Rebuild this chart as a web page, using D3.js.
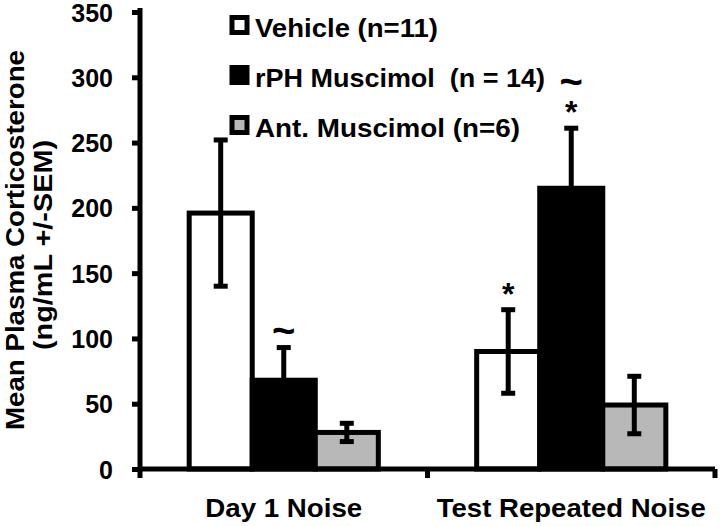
<!DOCTYPE html>
<html>
<head>
<meta charset="utf-8">
<script src="https://cdn.jsdelivr.net/npm/d3@7/dist/d3.min.js"></script>
<style>
  html, body { margin: 0; padding: 0; background: #fff; }
  svg text { font-family: "Liberation Sans", Arial, sans-serif; font-weight: bold; fill: #000; white-space: pre; }
</style>
</head>
<body>
<svg id="chart" width="720" height="526"></svg>
<script>
const categories = ["Day 1 Noise", "Test Repeated Noise"];
const seriesNames = ["Vehicle (n=11)", "rPH Muscimol  (n = 14)", "Ant. Muscimol (n=6)"];
const seriesColors = ["#ffffff", "#000000", "#b8b8b8"];
const vehicleMean = [196, 90];
const vehicleSem = [56, 32];
const rphMean = [68, 215];
const rphSem = [25, 46];
const antMean = [28, 49];
const antSem = [7, 22];
const yTicks = [0, 50, 100, 150, 200, 250, 300, 350];
const annotations = [
  { cat: 0, series: 1, marks: ["~"] },
  { cat: 1, series: 0, marks: ["*"] },
  { cat: 1, series: 1, marks: ["~", "*"] }
];

const means = [vehicleMean, rphMean, antMean];
const sems = [vehicleSem, rphSem, antSem];

const svg = d3.select("#chart");
const mLeft = 140, mRight = 715, mTop = 12, mBottom = 469;

const y = d3.scaleLinear().domain([0, 350]).range([mBottom, mTop]);
const x0 = d3.scaleBand().domain(categories).range([mLeft, mRight]).padding(0);
const x1 = d3.scaleBand().domain(d3.range(seriesNames.length))
  .range([0, x0.bandwidth()]).paddingInner(0).paddingOuter(0.78);

// bars
const data = [];
categories.forEach((c, ci) => {
  seriesNames.forEach((s, si) => {
    data.push({ c, ci, si, mean: means[si][ci], sem: sems[si][ci] });
  });
});

const g = svg.append("g");
g.selectAll("rect.bar").data(data).join("rect")
  .attr("class", "bar")
  .attr("x", d => x0(d.c) + x1(d.si))
  .attr("y", d => y(d.mean))
  .attr("width", x1.bandwidth())
  .attr("height", d => y(0) - y(d.mean))
  .attr("fill", d => seriesColors[d.si])
  .attr("stroke", "#000")
  .attr("stroke-width", 5);

// error bars
const cap = 7;
const eb = g.selectAll("g.err").data(data).join("g").attr("class", "err")
  .attr("transform", d => `translate(${x0(d.c) + x1(d.si) + x1.bandwidth() / 2},0)`);
eb.append("line")
  .attr("y1", d => y(d.mean - d.sem)).attr("y2", d => y(d.mean + d.sem))
  .attr("stroke", "#000").attr("stroke-width", 5);
eb.append("line")
  .attr("x1", -cap).attr("x2", cap)
  .attr("y1", d => y(d.mean + d.sem)).attr("y2", d => y(d.mean + d.sem))
  .attr("stroke", "#000").attr("stroke-width", 5);
eb.append("line")
  .attr("x1", -cap).attr("x2", cap)
  .attr("y1", d => y(d.mean - d.sem)).attr("y2", d => y(d.mean - d.sem))
  .attr("stroke", "#000").attr("stroke-width", 5);

// annotations (stacked upward above the error bar, one text per bar)
annotations.forEach(a => {
  const cx = x0(categories[a.cat]) + x1(a.series) + x1.bandwidth() / 2;
  const topVal = means[a.series][a.cat] + sems[a.series][a.cat];
  let yy = y(topVal);
  const t = svg.append("text").attr("text-anchor", "middle");
  const spans = [];
  a.marks.slice().reverse().forEach(m => {
    if (m === "*") {
      const c = yy - 23;
      spans.unshift({ m, y: c + 18, size: 32 });
      yy = c - 6;
    } else {
      const c = yy - 17;
      spans.unshift({ m, y: c + 13, size: 40 });
      yy = c - 10;
    }
  });
  spans.forEach(s => {
    t.append("tspan").attr("x", cx).attr("y", s.y).style("font-size", s.size + "px").text(s.m);
  });
});

// y axis
const yAxis = d3.axisLeft(y).tickValues(yTicks).tickSize(8).tickSizeOuter(0).tickPadding(20);
const ya = svg.append("g").attr("transform", `translate(${mLeft},0)`).call(yAxis);
ya.select(".domain").attr("stroke", "#000").attr("stroke-width", 5).attr("d", `M0,${mTop - 4}V${mBottom}`);
ya.selectAll(".tick line").attr("stroke", "#000").attr("stroke-width", 5);
ya.selectAll(".tick text").style("font-size", "25px").attr("font-family", null).attr("dy", "0.36em").attr("x", -27);

// x axis
const xAxis = d3.axisBottom(x0).tickSize(0).tickSizeOuter(0);
const xa = svg.append("g").attr("transform", `translate(0,${mBottom})`).call(xAxis);
xa.select(".domain").attr("stroke", "#000").attr("stroke-width", 5).attr("d", `M${mLeft},0H${mRight}`);
xa.selectAll(".tick text").style("font-size", "26px").attr("font-family", null)
  .attr("y", 48).attr("dy", 0)
  .attr("textLength", (d, i) => [157, 269][i]).attr("lengthAdjust", "spacingAndGlyphs");
const bounds = [x0(categories[0]), x0(categories[1]), x0(categories[1]) + x0.bandwidth()];
xa.selectAll("line.bound").data(bounds).join("line").attr("class", "bound")
  .attr("x1", d => d).attr("x2", d => d).attr("y1", 0).attr("y2", 9)
  .attr("stroke", "#000").attr("stroke-width", 5);

// y title
svg.append("text").attr("transform", "translate(24,240) rotate(-90)")
  .attr("text-anchor", "middle").style("font-size", "25px")
  .attr("textLength", 380).attr("lengthAdjust", "spacingAndGlyphs")
  .text("Mean Plasma Corticosterone");
svg.append("text").attr("transform", "translate(52,245) rotate(-90)")
  .attr("text-anchor", "middle").style("font-size", "25px")
  .attr("textLength", 210).attr("lengthAdjust", "spacingAndGlyphs")
  .text("(ng/mL +/-SEM)");

// legend
const legendWidths = [183, 290, 265];
const lg = svg.append("g");
seriesNames.forEach((s, i) => {
  const ly = 25 + i * 50;
  lg.append("rect").attr("x", 232).attr("y", ly - 7.5).attr("width", 15).attr("height", 15)
    .attr("fill", seriesColors[i]).attr("stroke", "#000").attr("stroke-width", 5);
  lg.append("text").attr("x", 255).attr("y", ly + 12).style("font-size", "25px")
    .attr("textLength", legendWidths[i]).attr("lengthAdjust", "spacingAndGlyphs").text(s);
});
</script>
</body>
</html>
